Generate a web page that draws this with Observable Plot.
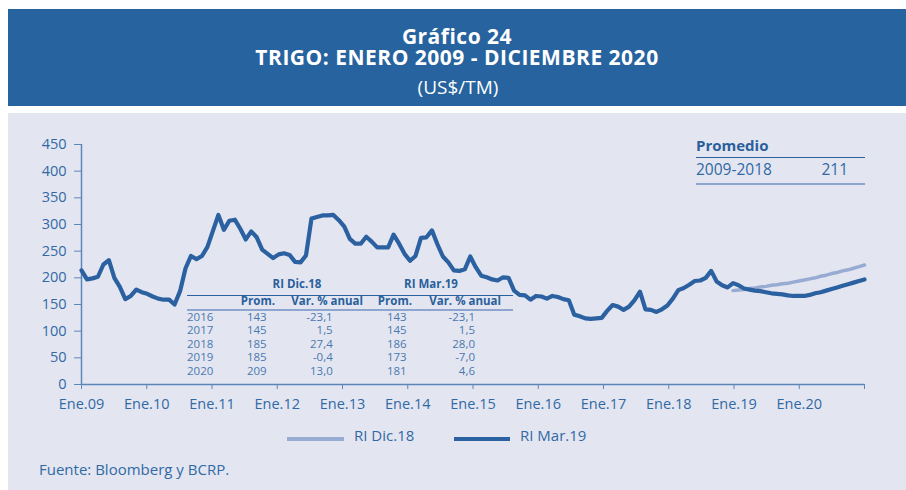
<!DOCTYPE html>
<html><head><meta charset="utf-8">
<script src="https://cdn.jsdelivr.net/npm/d3@7"></script>
<script src="https://cdn.jsdelivr.net/npm/@observablehq/plot@0.6"></script>
<style>
body{margin:0;background:#fff;font-family:"Open Sans",sans-serif;}
#page{position:relative;width:906px;height:490px;overflow:hidden;background:#fff}
.t{position:absolute;white-space:nowrap}
#chart{position:absolute;left:0;top:113px}
#hdr{position:absolute;left:8px;top:9px;width:898px;height:97px;background:#27639e;color:#fff;text-align:center}
#hdr .ttl{position:absolute;left:0;right:0;top:17px;font-size:21px;font-weight:700;line-height:21px;letter-spacing:0.5px}
#hdr .sub{position:absolute;left:0;right:0;top:69px;font-size:19px;line-height:19px;padding-left:2px}
</style></head><body><div id="page"></div>
<script>
// ---- data ----
const xLabels = ["Ene.09","Ene.10","Ene.11","Ene.12","Ene.13","Ene.14","Ene.15","Ene.16","Ene.17","Ene.18","Ene.19","Ene.20"];
const yTicks = [0,50,100,150,200,250,300,350,400,450];
// RI Mar.19 monthly, Jan 2009 - Dec 2020 (US$/TM)
const riMar19 = [
  214,197,199,202,225,233,200,183,160,166,178,173, // 2009
  170,165,161,159,159,150,175,218,241,235,241,258, // 2010
  288,318,290,307,309,292,272,287,276,253,245,237, // 2011
  244,246,243,230,229,242,311,314,317,317,318,308, // 2012
  296,273,264,264,277,268,257,257,257,281,264,245, // 2013
  232,241,275,276,289,263,240,229,214,213,216,240, // 2014
  220,204,201,197,195,201,200,176,168,167,159,166, // 2015
  165,161,166,164,160,158,131,128,124,123,124,125, // 2016
  138,149,146,140,146,158,174,141,140,136,141,148, // 2017
  161,177,181,187,194,195,200,213,193,186,182,190, // 2018
  186,180,178,176,175,173,171,170,169,167,166,166, // 2019
  166,168,171,173,176,179,182,185,188,191,194,197  // 2020
];
// RI Dic.18 monthly, Dec 2018 - Dec 2020
const riDic18Start = 119;
const riDic18 = [
  176, // Dec 2018
  177,178,180,181,183,184,186,187,189,190,192,194, // 2019
  196,198,200,203,205,208,210,213,215,218,221,224  // 2020
];
// table
const tblYears = ["2016","2017","2018","2019","2020"];
const dicProm = ["143","145","185","185","209"];
const dicVar = ["-23,1","1,5","27,4","-0,4","13,0"];
const marProm = ["143","145","186","173","181"];
const marVar = ["-23,1","1,5","28,0","-7,0","4,6"];
const promLabel = "2009-2018", promValue = "211";
const titleLines = ["Gráfico 24", "TRIGO: ENERO 2009 - DICIEMBRE 2020"];
const subtitle = "(US$/TM)";

// ---- styles ----
const PANEL = "#e3e6f1", TXT = "#3169a5", TXT2 = "#4a78ae";
const DARK = "#2b61a0", LIGHT = "#98acd3", AX = "#5b86b9";

const page = document.getElementById("page");
function box(l, t, w, h, bg) {
  const d = document.createElement("div");
  d.style.cssText = `position:absolute;left:${l}px;top:${t}px;width:${w}px;height:${h}px;background:${bg}`;
  page.appendChild(d); return d;
}
function text(str, x, base, size, opts = {}) {
  const d = document.createElement("div");
  d.className = "t";
  d.textContent = str;
  const lh = opts.lh || 1;
  const top = base - ((lh - 1.362) / 2 + 1.069) * size;
  let css = `top:${top}px;font-size:${size}px;line-height:${lh};color:${opts.color || TXT};font-weight:${opts.weight || 400};`;
  if (opts.ls) css += `letter-spacing:${opts.ls}px;`;
  if (opts.anchor === "end") css += `right:${906 - x}px;`;
  else if (opts.anchor === "middle") css += `left:${x}px;transform:translateX(-50%);`;
  else css += `left:${x}px;`;
  d.style.cssText += css;
  page.appendChild(d); return d;
}

// header (multi-line title in one block)
const hdr = document.createElement("div");
hdr.id = "hdr";
const ttl = document.createElement("div");
ttl.className = "ttl";
ttl.innerHTML = titleLines.join("<br>");
const sub = document.createElement("div");
sub.className = "sub";
sub.textContent = subtitle;
hdr.appendChild(ttl); hdr.appendChild(sub);
page.appendChild(hdr);

// panel
box(8, 113, 898, 377, PANEL);

// chart
const darkData = riMar19.map((v, i) => ({i, v}));
const lightData = riDic18.map((v, k) => ({i: riDic18Start + k, v}));
const xTickPos = d3.range(13).map(k => k * 143 / 12);
const chart = Plot.plot({
  width: 906, height: 310,
  marginLeft: 81, marginRight: 42, marginTop: 31, marginBottom: 39,
  x: {domain: [0, 143]},
  y: {domain: [0, 450]},
  style: {background: "transparent", fontFamily: "Open Sans", color: TXT, overflow: "visible"},
  marks: [
    Plot.axisY({ticks: yTicks, tickSize: 7, tickPadding: 8, fontSize: 14.5, label: null, stroke: AX, fill: TXT}),
    Plot.axisX({ticks: xTickPos, tickSize: 5, tickPadding: 9, fontSize: 14.5, label: null, stroke: AX, fill: TXT,
      tickFormat: d => xLabels[Math.round(d * 12 / 143)] ?? ""}),
    Plot.ruleY([0], {stroke: AX, strokeWidth: 1.5}),
    Plot.ruleX([0], {y1: 0, y2: 450, stroke: AX, strokeWidth: 1.5}),
    Plot.line(lightData, {x: "i", y: "v", stroke: LIGHT, strokeWidth: 3.5, strokeLinejoin: "round"}),
    Plot.line(darkData, {x: "i", y: "v", stroke: DARK, strokeWidth: 4.2, strokeLinejoin: "round"})
  ]
});
chart.id = "chart";
page.appendChild(chart);

// Promedio box
text("Promedio", 696, 151.7, 15, {weight: 700, color: "#2a5f9c"});
box(696, 157, 169, 1, DARK);
text(promLabel, 696, 175.7, 15.5);
text(promValue, 848, 175.7, 15.5, {anchor: "end"});
box(696, 182.5, 169, 2, "#8ea5cf");

// table
text("RI Dic.18", 297, 288, 11.5, {anchor: "middle", weight: 700, color: "#2a5f9c"});
text("RI Mar.19", 431, 288, 11.5, {anchor: "middle", weight: 700, color: "#2a5f9c"});
box(187, 295.3, 326, 1, DARK);
text("Prom.", 275, 305.7, 11.5, {anchor: "end", weight: 700, color: "#2a5f9c"});
text("Var. % anual", 363, 305.7, 11.5, {anchor: "end", weight: 700, color: "#2a5f9c"});
text("Prom.", 412, 305.7, 11.5, {anchor: "end", weight: 700, color: "#2a5f9c"});
text("Var. % anual", 501, 305.7, 11.5, {anchor: "end", weight: 700, color: "#2a5f9c"});
box(187, 308.5, 326, 2, "#8ea5cf");
tblYears.forEach((y, r) => {
  const b = 321.7 + r * 13.55;
  text(y, 187, b, 11.5, {color: TXT2, lh: 0.95});
  text(dicProm[r], 266.7, b, 11.5, {anchor: "end", color: TXT2, lh: 0.95});
  text(dicVar[r], 332.7, b, 11.5, {anchor: "end", color: TXT2, lh: 0.95});
  text(marProm[r], 406.7, b, 11.5, {anchor: "end", color: TXT2, lh: 0.95});
  text(marVar[r], 475, b, 11.5, {anchor: "end", color: TXT2, lh: 0.95});
});

// legend
box(287, 437, 57, 4, LIGHT);
text("RI Dic.18", 354, 441.7, 15);
box(454, 437, 56, 4, DARK);
text("RI Mar.19", 520, 441.7, 15);

// source
text("Fuente: Bloomberg y BCRP.", 39, 475, 15);
</script>
</body></html>
